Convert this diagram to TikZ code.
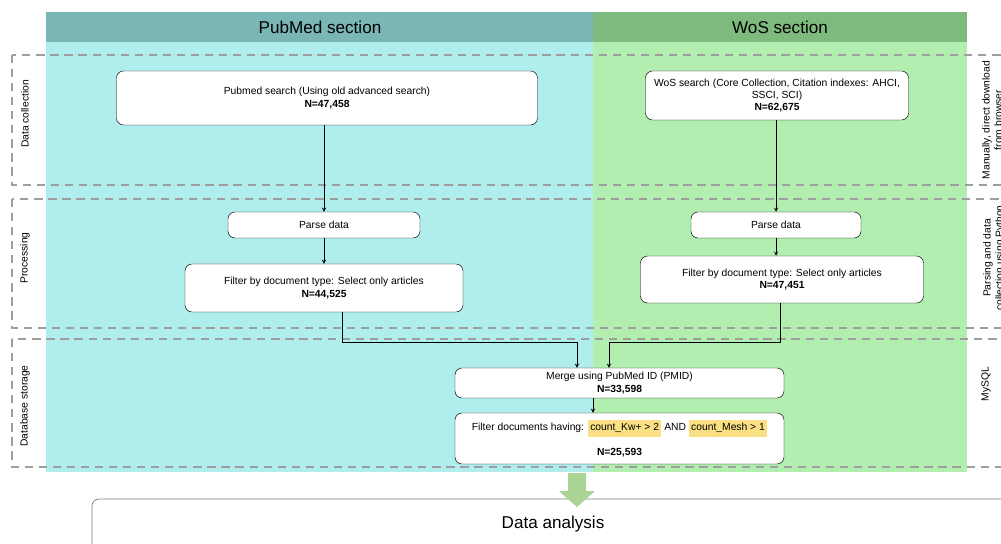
\documentclass[tikz,border=0pt]{standalone}
\usepackage{fontspec}
\setmainfont{Liberation Sans}
\usepackage{tikz}
\usetikzlibrary{positioning, arrows, calc}
\definecolor{pmhead}{RGB}{122,182,182}
\definecolor{pmbody}{RGB}{176,238,238}
\definecolor{woshead}{RGB}{126,186,126}
\definecolor{wosbody}{RGB}{178,238,176}
\definecolor{lanegray}{RGB}{158,158,158}
\definecolor{hlyellow}{RGB}{250,224,130}
\definecolor{bigarrow}{RGB}{170,212,150}
\definecolor{analysisborder}{RGB}{120,135,110}
\newcommand{\hlbox}[1]{{\setlength{\fboxsep}{2pt}\colorbox{hlyellow}{\strut #1}}}
\tikzset{
    x=0.03cm, y=-0.03cm, % one unit is one pixel of the reference
    every node/.style={font=\fontsize{8.8}{10.5}\selectfont},
    stepbox/.style={ % Sets the properties for each box
        draw, thin,
        fill=white,
        rounded corners=6pt,
        align=center,
        inner sep=2pt
    },
    lane/.style={ % Dashed horizontal lanes
        draw=lanegray,
        line width=1.4pt,
        dash pattern=on 7pt off 5pt
    },
    lanelabel/.style={rotate=90, align=center},
    flow/.style={
        draw,
        ->,>=stealth, % Makes edges directed with bold arrowheads
        semithick
    },
    header/.style={font=\fontsize{14.6}{17}\selectfont}
}

\begin{document}
\begin{tikzpicture}
            \useasboundingbox (0,0) rectangle (1001,544);
            \clip (0,0) rectangle (1001,544);
            % columns
            \fill[pmhead]   (46,12)  rectangle (593,42);
            \fill[woshead]  (593,12) rectangle (967,42);
            \fill[pmbody]   (46,42)  rectangle (593,472);
            \fill[wosbody]  (593,42) rectangle (967,472);
            \node[header] (pmtitle)  at (320,27) {PubMed section};
            \node[header] (wostitle) at (780,27) {WoS section};

            % lanes
            \draw[lane] (12,55)  rectangle (1030,185);
            \draw[lane] (12,199) rectangle (1030,328);
            \draw[lane] (12,339) rectangle (1030,467);
            \node[lanelabel] (lanedc) at (25,114) {Data collection};
            \node[lanelabel] (lanepr) at (25,258) {Processing};
            \node[lanelabel] (laneds) at (25,406) {Database storage};
            \node[lanelabel] (notedc) at (992,120) {Manually, direct download\\from browser};
            \node[lanelabel] (notepr) at (994,258) {Parsing and data\\collection using Python};
            \node[lanelabel] (noteds) at (986,384) {MySQL};

            % boxes
            \node[stepbox, minimum width=421*0.03cm, minimum height=54*0.03cm] (pmsearch)  at (327,98)
                {Pubmed search (Using old advanced search)\\\textbf{N=47,458}};
            \node[stepbox, minimum width=263*0.03cm, minimum height=49*0.03cm] (wossearch) at (777,95.5)
                {WoS search (Core Collection, Citation indexes: AHCI,\\SSCI, SCI)\\\textbf{N=62,675}};
            \node[stepbox, minimum width=192*0.03cm, minimum height=26*0.03cm] (pmparse)   at (324,225) {Parse data};
            \node[stepbox, minimum width=170*0.03cm, minimum height=26*0.03cm] (wosparse)  at (776,225) {Parse data};
            \node[stepbox, minimum width=278*0.03cm, minimum height=48*0.03cm] (pmfilter)  at (324,288)
                {Filter by document type: Select only articles\\\textbf{N=44,525}};
            \node[stepbox, minimum width=283*0.03cm, minimum height=47*0.03cm] (wosfilter) at (782,279.5)
                {Filter by document type: Select only articles\\\textbf{N=47,451}};
            \node[stepbox, minimum width=329*0.03cm, minimum height=30*0.03cm] (merge)     at (619.5,383)
                {Merge using PubMed ID (PMID)\\\textbf{N=33,598}};
            \node[stepbox, minimum width=329*0.03cm, minimum height=51*0.03cm] (filterdocs) at (619.5,438.5)
                {Filter documents having: \hlbox{count\_Kw+ > 2} AND \hlbox{count\_Mesh > 1}\\[9pt]\textbf{N=25,593}};

            % connectors
            \coordinate (pmturn)  at (342,342);
            \coordinate (wosturn) at (780,342);
            \draw[flow] (pmparse.north |- pmsearch.south) -- (pmparse.north);
            \draw[flow] (pmparse) -- (pmfilter);
            \draw[flow] (wosparse.north |- wossearch.south) -- (wosparse.north);
            \draw[flow] (wosparse.south) -- (wosparse.south |- wosfilter.north);
            \draw[flow] (pmfilter.south -| pmturn) -- (pmturn) -| ($(merge.north)+(-42.5,0)$);
            \draw[flow] (wosfilter.south -| wosturn) -- (wosturn) -| ($(merge.north)+(-10.5,0)$);
            \draw[flow] ($(merge.south)+(-26.5,0)$) -- ($(filterdocs.north)+(-26.5,0)$);

            % data analysis
            \draw[analysisborder, semithick, fill=white, rounded corners=6pt] (92,499) rectangle (1020,570);
            \node[header] (analysis) at (553,524) {Data analysis};
            \coordinate (bigtip) at (577,507);
            \fill[bigarrow] ($(bigtip)+(-9,-34)$) -- ($(bigtip)+(9,-34)$) -- ($(bigtip)+(9,-16)$)
                -- ($(bigtip)+(18,-16)$) -- (bigtip) -- ($(bigtip)+(-18,-16)$) -- ($(bigtip)+(-9,-16)$) -- cycle;
        \end{tikzpicture}
\end{document}
